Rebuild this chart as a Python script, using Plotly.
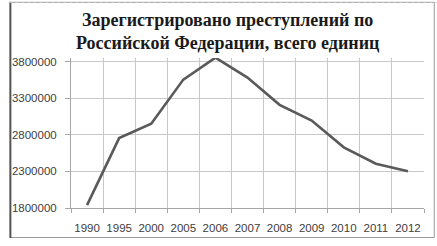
import plotly.graph_objects as go

years = ["1990", "1995", "2000", "2005", "2006", "2007", "2008", "2009", "2010", "2011", "2012"]
crimes = [1839451, 2755669, 2952367, 3554738, 3855373, 3582541, 3209862, 2994820, 2628799, 2404807, 2302168]
y_ticks = [1800000, 2300000, 2800000, 3300000, 3800000]

W, H = 437, 246
L, R, T, B = 63, 13, 58, 33
pw, ph = W - L - R, H - T - B

def px(x):
    return (x - L) / pw

def py(y):
    return (H - B - y) / ph

xs = list(range(len(years)))

fig = go.Figure()
fig.add_trace(go.Scatter(x=xs, y=crimes, mode="lines",
                         line=dict(color="#5a5a5a", width=2.6), hoverinfo="skip"))

fig.update_layout(
    width=W, height=H,
    margin=dict(l=L, r=R, t=T, b=B),
    paper_bgcolor="white", plot_bgcolor="white",
    showlegend=False,
    font=dict(family="Liberation Sans", size=11.5, color="#404040"),
)
fig.add_annotation(
    text="Зарегистрировано преступлений по<br>Российской Федерации, всего единиц",
    xref="paper", yref="paper", x=px(224), y=py(6), xanchor="center", yanchor="top",
    showarrow=False, align="center",
    font=dict(family="Liberation Serif", size=18, color="#1a1a1a", weight="bold"),
)
fig.update_xaxes(
    range=[-0.5, len(years) - 0.5],
    tickvals=xs, ticktext=years,
    showgrid=False, ticks="", showline=True, linecolor="#a6a6a6", linewidth=1,
    zeroline=False, ticklabelstandoff=9,
    minor=dict(tick0=-0.5, dtick=1, showgrid=True, gridcolor="#c8c8c8", gridwidth=1,
               ticks="outside", ticklen=4, tickcolor="#a6a6a6"),
    fixedrange=True,
)
fig.update_yaxes(
    range=[1800000, 3850000],
    tickvals=y_ticks, ticktext=[str(v) for v in y_ticks],
    showgrid=True, gridcolor="#c8c8c8", gridwidth=1,
    ticks="outside", ticklen=5, tickcolor="#a6a6a6",
    showline=True, linecolor="#a6a6a6", linewidth=1, zeroline=False,
    ticklabelstandoff=6,
    fixedrange=True,
)

# chart border
fig.add_shape(type="rect", xref="paper", yref="paper",
              x0=px(1), x1=px(434.5), y0=py(243.5), y1=py(0.5),
              line=dict(color="#9a9a9a", width=1), layer="above")
fig.add_shape(type="line", xref="paper", yref="paper",
              x0=px(1), x1=px(1), y0=py(244), y1=py(0),
              line=dict(color="#555555", width=2), layer="above")
fig.add_shape(type="line", xref="paper", yref="paper",
              x0=px(0), x1=px(437), y0=py(0.5), y1=py(0.5),
              line=dict(color="#c8c8c8", width=1, dash="dot"), layer="above")

fig.write_html("out.html", config={"displayModeBar": False})
